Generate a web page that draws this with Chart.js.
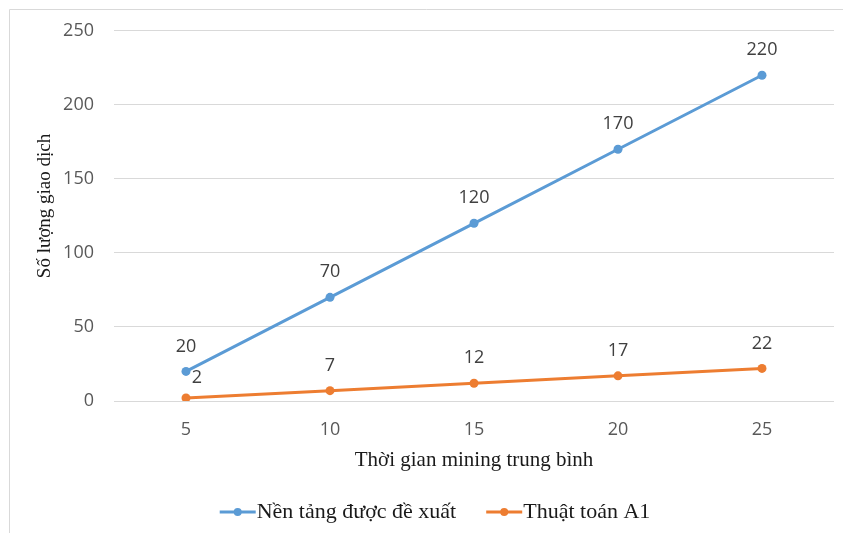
<!DOCTYPE html>
<html>
<head>
<meta charset="utf-8">
<script src="https://cdn.jsdelivr.net/npm/chart.js@4/dist/chart.umd.min.js"></script>
<style>
  html, body { margin: 0; padding: 0; background: #ffffff; }
  #wrap { width: 843px; height: 533px; position: relative; }
</style>
</head>
<body>
<div id="wrap"><canvas id="c" width="843" height="533"></canvas></div>
<script>
// Average mining time (x) vs. number of transactions (y)
const categories = ['5', '10', '15', '20', '25'];
const proposedValues = [20, 70, 120, 170, 220];
const a1Values = [2, 7, 12, 17, 22];
const seriesNames = ['Nền tảng được đề xuất', 'Thuật toán A1'];
const yTicks = [0, 50, 100, 150, 200, 250];
const xTitle = 'Thời gian mining trung bình';
const yTitle = 'Số lượng giao dịch';

const BLUE = '#5B9BD5';
const ORANGE = '#ED7D31';
const TICK_FONT = '"Open Sans", "Liberation Sans", sans-serif';
const SERIF = '"Liberation Serif", "DejaVu Serif", serif';

// Frame around the chart area (left and top edges visible)
const framePlugin = {
  id: 'frame',
  beforeDraw(chart) {
    const ctx = chart.ctx;
    ctx.save();
    ctx.strokeStyle = '#D9D9D9';
    ctx.lineWidth = 1;
    ctx.beginPath();
    ctx.moveTo(9.5, 600);
    ctx.lineTo(9.5, 9.5);
    ctx.lineTo(900, 9.5);
    ctx.stroke();
    ctx.restore();
  }
};

// Value labels above each point
const valueLabels = {
  id: 'valueLabels',
  afterDatasetsDraw(chart) {
    const ctx = chart.ctx;
    ctx.save();
    ctx.font = '18px ' + TICK_FONT;
    ctx.fillStyle = '#404040';
    ctx.textAlign = 'center';
    ctx.textBaseline = 'middle';
    chart.data.datasets.forEach((ds, di) => {
      const meta = chart.getDatasetMeta(di);
      meta.data.forEach((pt, i) => {
        let dx = 0, dy = -25;
        // first label of the lower series is nudged right so it clears the upper point
        if (di === 1 && i === 0) { dx = 11; dy = -20; }
        ctx.fillText(String(ds.data[i]), pt.x + dx, pt.y + dy);
      });
    });
    ctx.restore();
  }
};

// Axis titles and the bottom legend
const titlesAndLegend = {
  id: 'titlesAndLegend',
  afterDraw(chart) {
    const ctx = chart.ctx;
    const area = chart.chartArea;
    ctx.save();
    ctx.fillStyle = '#1a1a1a';
    ctx.textBaseline = 'middle';

    // y-axis title
    ctx.font = '19px ' + SERIF;
    ctx.save();
    ctx.translate(45, 206);
    ctx.rotate(-Math.PI / 2);
    ctx.textAlign = 'center';
    ctx.fillText(yTitle, 0, 0);
    ctx.restore();

    // x-axis title
    ctx.textAlign = 'center';
    ctx.font = '21px ' + SERIF;
    ctx.fillText(xTitle, (area.left + area.right) / 2, 460);

    // legend
    ctx.font = '22px ' + SERIF;
    const lineLen = 36, gap = 1, itemGap = 30;
    const widths = chart.data.datasets.map(ds => lineLen + gap + ctx.measureText(ds.label).width);
    const total = widths.reduce((a, b) => a + b, 0) + itemGap * (widths.length - 1);
    let x = 435 - total / 2;
    const y = 512;
    chart.data.datasets.forEach((ds, i) => {
      ctx.strokeStyle = ds.borderColor;
      ctx.lineWidth = 3;
      ctx.beginPath();
      ctx.moveTo(x, y);
      ctx.lineTo(x + lineLen, y);
      ctx.stroke();
      ctx.fillStyle = ds.borderColor;
      ctx.beginPath();
      ctx.arc(x + lineLen / 2, y, 4, 0, Math.PI * 2);
      ctx.fill();
      ctx.fillStyle = '#1a1a1a';
      ctx.textAlign = 'left';
      ctx.fillText(ds.label, x + lineLen + gap, y);
      x += widths[i] + itemGap;
    });
    ctx.restore();
  }
};

new Chart(document.getElementById('c'), {
  type: 'line',
  data: {
    labels: categories,
    datasets: [
      {
        label: seriesNames[0],
        data: proposedValues,
        borderColor: BLUE,
        backgroundColor: BLUE,
        borderWidth: 3,
        pointRadius: 4.5,
        pointBorderWidth: 0,
        pointBackgroundColor: BLUE,
        tension: 0
      },
      {
        label: seriesNames[1],
        data: a1Values,
        borderColor: ORANGE,
        backgroundColor: ORANGE,
        borderWidth: 3,
        pointRadius: 4.5,
        pointBorderWidth: 0,
        pointBackgroundColor: ORANGE,
        tension: 0
      }
    ]
  },
  options: {
    responsive: false,
    animation: false,
    devicePixelRatio: 1,
    layout: { padding: { left: 0, right: 9, top: 30, bottom: 0 } },
    plugins: {
      legend: { display: false },
      tooltip: { enabled: false }
    },
    scales: {
      x: {
        type: 'category',
        offset: true,
        grid: { display: false, drawTicks: false },
        border: { display: false },
        ticks: {
          padding: 18,
          color: '#595959',
          font: { size: 18, family: TICK_FONT }
        },
        afterFit(scale) { scale.height = 132; }
      },
      y: {
        min: 0,
        max: 250,
        afterBuildTicks(scale) { scale.ticks = yTicks.map(v => ({ value: v })); },
        grid: { color: '#D9D9D9', lineWidth: 1, drawTicks: false },
        border: { display: false },
        ticks: {
          padding: 20,
          color: '#595959',
          font: { size: 18, family: TICK_FONT }
        },
        afterFit(scale) { scale.width = 114; }
      }
    }
  },
  plugins: [framePlugin, valueLabels, titlesAndLegend]
});
</script>
</body>
</html>
